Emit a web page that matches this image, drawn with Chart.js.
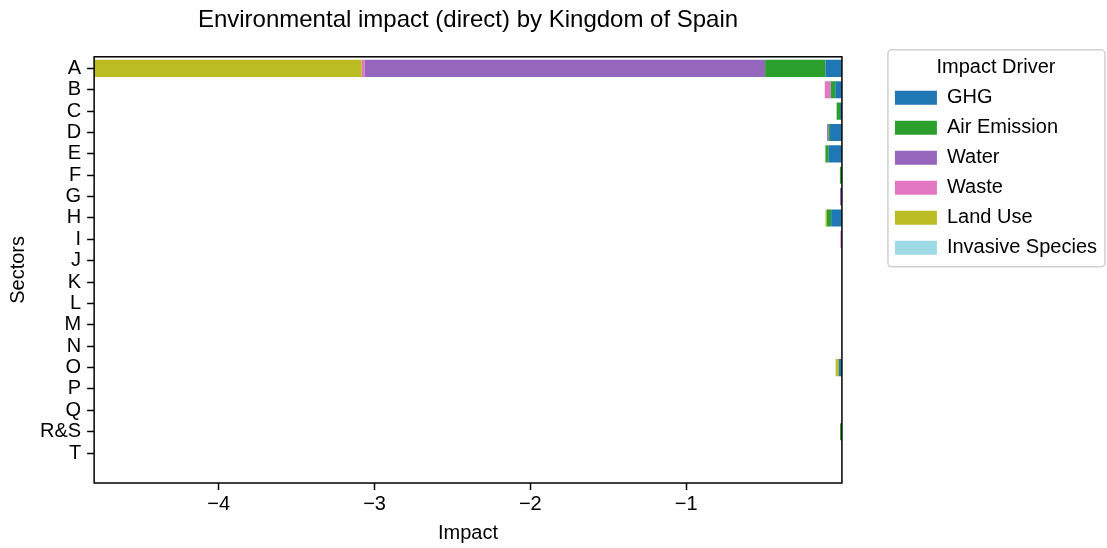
<!DOCTYPE html>
<html>
<head>
<meta charset="utf-8">
<script src="https://cdn.jsdelivr.net/npm/chart.js@4"></script>
<style>
  html, body { margin: 0; padding: 0; background: #fff; }
  #wrap { width: 1107px; height: 548px; }
</style>
</head>
<body>
<div id="wrap"><canvas id="impactChart" width="1107" height="548"></canvas></div>
<script>
// sectors (top to bottom)
const sectors = ["A", "B", "C", "D", "E", "F", "G", "H", "I", "J", "K", "L", "M", "N", "O", "P", "Q", "R&S", "T"];

// impact by driver, one value per sector
const ghg       = [-0.106, -0.043, -0.012, -0.076, -0.085, 0, 0, -0.069, 0, 0, 0, 0, 0, 0, -0.020, 0, 0, 0, 0];
const airEmission = [-0.387, -0.028, -0.022, -0.009, -0.021, -0.013, 0, -0.028, 0, 0, 0, 0, 0, 0, 0, 0, 0, -0.012, 0];
const water     = [-2.570, -0.002, 0, -0.010, 0, 0, -0.012, 0, 0, 0, 0, 0, 0, 0, 0, 0, 0, 0, 0];
const waste     = [-0.019, -0.037, 0, 0, 0, 0, 0, 0, -0.010, 0, 0, 0, 0, 0, 0, 0, 0, 0, 0];
const landUse   = [-1.718, 0, 0, 0, 0, 0, 0, -0.008, 0, 0, 0, 0, 0, 0, -0.020, 0, 0, 0, 0];
const invasive  = [0, 0, 0, 0, 0, 0, 0, 0, 0, 0, 0, 0, 0, 0, 0, 0, 0, 0, 0];

const drivers = ["GHG", "Air Emission", "Water", "Waste", "Land Use", "Invasive Species"];
const driverValues = [ghg, airEmission, water, waste, landUse, invasive];
const driverColors = ["#1f77b4", "#2ca02c", "#9467bd", "#e377c2", "#bcbd22", "#9edae5"];

const xTicks = [-4, -3, -2, -1];

const FONT = "'Liberation Sans', Arial, sans-serif";
Chart.defaults.color = "#000";
Chart.defaults.font.family = FONT;

// black frame round the plot area
const framePlugin = {
    id: "frame",
    afterDatasetsDraw(chart) {
        const a = chart.chartArea;
        const ctx = chart.ctx;
        ctx.save();
        ctx.strokeStyle = "#000";
        ctx.lineWidth = 1.5;
        ctx.strokeRect(a.left, a.top, a.right - a.left, a.bottom - a.top);
        ctx.restore();
    }
};

// light rounded box round the legend
const legendBoxPlugin = {
    id: "legendBox",
    afterDraw(chart) {
        const lg = chart.legend;
        if (!lg || !lg.legendHitBoxes.length) return;
        const last = lg.legendHitBoxes[lg.legendHitBoxes.length - 1];
        const x = lg.left + 3, y = lg.top - 7;
        const w = lg.right - 2 - x;
        const h = last.top + last.height + 9 - y;
        const ctx = chart.ctx;
        ctx.save();
        ctx.strokeStyle = "#d0d0d0";
        ctx.lineWidth = 1.5;
        ctx.beginPath();
        ctx.roundRect(x, y, w, h, 4);
        ctx.stroke();
        ctx.restore();
    }
};

const datasets = drivers.map((name, i) => ({
    label: name,
    data: driverValues[i].map((v, j) => ({ x: v, y: j })),
    backgroundColor: driverColors[i],
    borderWidth: 0,
    stack: "all",
    barPercentage: 1.0,
    categoryPercentage: 0.8
}));

new Chart(document.getElementById("impactChart"), {
    type: "bar",
    data: { datasets: datasets },
    options: {
        indexAxis: "y",
        responsive: false,
        animation: false,
        layout: { padding: { left: 0, right: 0, top: 0, bottom: 0 } },
        plugins: {
            title: {
                display: true,
                text: "Environmental impact (direct) by Kingdom of Spain",
                fullSize: false,
                font: { size: 24, weight: "normal", family: FONT },
                padding: { top: 6, bottom: 22 }
            },
            legend: {
                position: "right",
                align: "start",
                fullSize: false,
                maxWidth: 240,
                title: {
                    display: true,
                    text: "Impact Driver",
                    font: { size: 20, family: FONT, lineHeight: 1 },
                    padding: { top: 1, bottom: 0 }
                },
                labels: {
                    boxWidth: 42,
                    boxHeight: 14,
                    padding: 10,
                    font: { size: 20, family: FONT }
                }
            },
            tooltip: { enabled: false }
        },
        scales: {
            x: {
                type: "linear",
                stacked: true,
                min: -4.8,
                max: 0,
                afterBuildTicks(scale) { scale.ticks = xTicks.map(v => ({ value: v })); },
                ticks: {
                    font: { size: 20 },
                    padding: 2,
                    callback: v => (v < 0 ? "\u2212" : "") + Math.abs(v)
                },
                grid: { drawOnChartArea: false, drawTicks: true, tickLength: 7, tickColor: "#000", tickWidth: 1.5 },
                border: { display: false },
                title: { display: true, text: "Impact", font: { size: 20 }, padding: { top: 3, bottom: 3 } }
            },
            y: {
                type: "linear",
                reverse: true,
                offset: false,
                min: -0.54,
                max: 19.4,
                afterBuildTicks(scale) { scale.ticks = sectors.map((s, i) => ({ value: i })); },
                ticks: {
                    autoSkip: false,
                    font: { size: 20 },
                    padding: 6,
                    callback: v => sectors[v]
                },
                grid: { offset: false, drawOnChartArea: false, drawTicks: true, tickLength: 7, tickColor: "#000", tickWidth: 1.5 },
                border: { display: false },
                title: { display: true, text: "Sectors", font: { size: 20 }, padding: { top: 6, bottom: 4 } }
            },
            gap: {
                type: "linear",
                axis: "y",
                position: "right",
                display: true,
                grid: { display: false },
                ticks: { display: false },
                border: { display: false },
                afterFit(scale) { scale.width = 43; }
            }
        }
    },
    plugins: [framePlugin, legendBoxPlugin]
});
</script>
</body>
</html>
